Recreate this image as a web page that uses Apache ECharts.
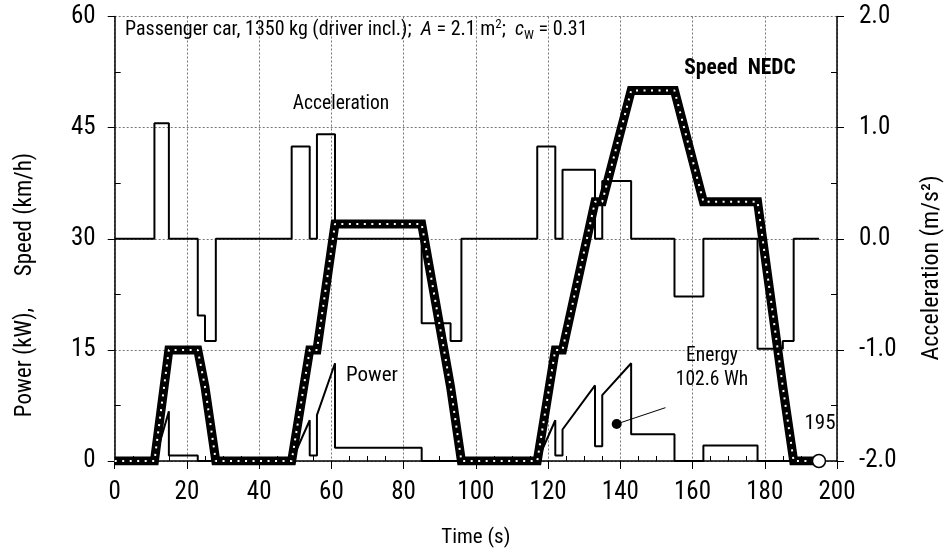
<!DOCTYPE html>
<html><head><meta charset="utf-8">
<script src="https://cdn.jsdelivr.net/npm/echarts@6/dist/echarts.min.js"></script>
<style>html,body{margin:0;padding:0;background:#fff}#c{width:949px;height:553px}</style>
</head><body><div id="c"></div>
<script>
// ---- data ----
const speedTime = [0,11,15,23,25,28,49,54,56,61,85,93,96,117,122,124,133,135,143,155,163,178,185,188,195];
const speedKmh  = [0,0,15,15,10,0,0,15,15,32,32,10,0,0,15,15,35,35,50,50,35,35,10,0,0];
const accTime = [0,11,15,23,25,28,49,54,56,61,85,93,96,117,122,124,133,135,143,155,163,178,185,188,195];
const accVal  = [0,1.04,0,-0.69,-0.92,0,0.83,0,0.94,0,-0.76,-0.92,0,0.83,0,0.62,0,0.52,0,-0.52,0,-0.99,-0.92,0,0];
const powerTime = [0,11,15,15,23,23,49,54,54,56,56,61,61,85,85,117,122,122,124,124,133,133,135,135,143,143,155,155,163,163,178,178,195];
const powerKw   = [0,0,6.7,0.75,0.75,0,0,5.5,0.75,0.75,6.2,13.2,1.8,1.8,0,0,5.5,0.75,0.75,4.25,10.2,2.0,2.0,8.9,13.2,3.6,3.6,0,0,2.1,2.1,0,0];
const energyDot = [139, 5.0];
const energyLeaderEnd = [152.5, 7.2];
const endPoint = [195, 0];
const energyText = ['Energy', '102.6 Wh'];
const endLabel = '195';

const zip = (a, b) => a.map((v, i) => [v, b[i]]);
const FONT = '"Roboto Condensed", "Liberation Sans", Arial, sans-serif';

const chart = echarts.init(document.getElementById('c'), null, {renderer: 'canvas'});
const grid = {left: 114.7, right: 112, top: 16.5, bottom: 89.7};
const gridLine = {show: true, lineStyle: {color: '#777', type: [2, 2], width: 1}};

chart.setOption({
  animation: false,
  backgroundColor: '#fff',
  grid: grid,
  xAxis: {
    type: 'value', min: 0, max: 200, interval: 20,
    name: 'Time (s)', nameLocation: 'middle', nameGap: 66,
    nameTextStyle: {fontFamily: FONT, fontSize: 21, color: '#000'},
    axisLine: {show: true, onZero: false, lineStyle: {color: '#000', width: 1.5}},
    axisTick: {show: true, inside: false, length: 8, lineStyle: {color: '#000', width: 1}},
    minorTick: {show: true, splitNumber: 4, length: -5, lineStyle: {color: '#000', width: 1}},
    axisLabel: {fontFamily: FONT, fontSize: 25, color: '#000', margin: 19},
    splitLine: gridLine
  },
  yAxis: [{
    type: 'value', min: 0, max: 60, interval: 15, position: 'left',
    axisLine: {show: true, lineStyle: {color: '#000', width: 1.5}},
    axisTick: {show: true, length: 7, lineStyle: {color: '#000', width: 1}},
    minorTick: {show: true, splitNumber: 2, length: -6, lineStyle: {color: '#000', width: 1}},
    axisLabel: {fontFamily: FONT, fontSize: 25, color: '#000', margin: 19},
    splitLine: gridLine
  }, {
    type: 'value', min: -2, max: 2, interval: 1, position: 'right',
    axisLine: {show: true, lineStyle: {color: '#000', width: 1.5}},
    axisTick: {show: true, length: 7, lineStyle: {color: '#000', width: 1}},
    minorTick: {show: true, splitNumber: 2, length: -6, lineStyle: {color: '#000', width: 1}},
    axisLabel: {fontFamily: FONT, fontSize: 25, color: '#000', margin: 22,
      formatter: v => v.toFixed(1)},
    splitLine: {show: false}
  }],
  series: [
    {
      name: 'Acceleration', type: 'line', yAxisIndex: 1, step: 'end',
      data: zip(accTime, accVal), symbol: 'none', z: 3,
      lineStyle: {color: '#000', width: 2}
    },
    {
      name: 'Power', type: 'line', yAxisIndex: 0,
      data: zip(powerTime, powerKw), symbol: 'none', z: 3,
      lineStyle: {color: '#000', width: 2}
    },
    {
      name: 'EnergyLeader', type: 'line', yAxisIndex: 0,
      data: [energyDot, energyLeaderEnd], symbol: 'none', z: 4,
      lineStyle: {color: '#000', width: 1}
    },
    {
      name: 'EnergyDot', type: 'scatter', yAxisIndex: 0,
      data: [energyDot], symbol: 'circle', symbolSize: 10, z: 5,
      itemStyle: {color: '#000', opacity: 1}
    },
    {
      name: 'Speed', type: 'line', yAxisIndex: 0,
      data: zip(speedTime, speedKmh), symbol: 'none', z: 6,
      lineStyle: {color: '#000', width: 9, join: 'miter'}
    },
    {
      name: 'SpeedDots', type: 'line', yAxisIndex: 0,
      data: zip(speedTime, speedKmh), symbol: 'none', z: 7,
      lineStyle: {color: '#fff', width: 2, type: [2, 5.5]}
    },
    {
      name: 'End', type: 'scatter', yAxisIndex: 0,
      data: [endPoint], symbol: 'circle', symbolSize: 13, z: 8,
      itemStyle: {color: '#fff', borderColor: '#000', borderWidth: 1.5, opacity: 1}
    }
  ],
  graphic: [
    {type: 'text', left: 125, top: 18, z: 20, style: {
      text: '{n|Passenger car, 1350 kg (driver incl.);  }{i|A}{n| = 2.1 m}{sup|2}{n|;  }{i|c}{sub|W}{n| = 0.31}',
      rich: {
        n: {fontFamily: FONT, fontSize: 20, fill: '#000', lineHeight: 24, verticalAlign: 'middle'},
        i: {fontFamily: FONT, fontSize: 20, fontStyle: 'italic', fill: '#000', lineHeight: 24, verticalAlign: 'middle'},
        sup: {fontFamily: FONT, fontSize: 13, fill: '#000', lineHeight: 24, verticalAlign: 'top'},
        sub: {fontFamily: FONT, fontSize: 13, fill: '#000', lineHeight: 24, verticalAlign: 'bottom'}
      }
    }},
    {type: 'text', x: 25, y: 285, rotation: Math.PI / 2, z: 20, style: {text: 'Power (kW),      Speed (km/h)', fontFamily: FONT, fontSize: 23, fill: '#000', align: 'center', verticalAlign: 'middle'}},
    {type: 'text', x: 932, y: 268, rotation: Math.PI / 2, z: 20, style: {text: 'Acceleration (m/s²)', fontFamily: FONT, fontSize: 24, fill: '#000', align: 'center', verticalAlign: 'middle'}},
    {type: 'text', x: 341, y: 104, z: 20, style: {text: 'Acceleration', fontFamily: FONT, fontSize: 19.5, fill: '#000', align: 'center', verticalAlign: 'middle'}},
    {type: 'text', x: 740, y: 69, z: 20, style: {text: 'Speed  NEDC', fontFamily: FONT, fontSize: 21.5, fontWeight: 'bold', fill: '#000', align: 'center', verticalAlign: 'middle'}},
    {type: 'text', x: 372, y: 376, z: 20, style: {text: 'Power', fontFamily: FONT, fontSize: 21, fill: '#000', align: 'center', verticalAlign: 'middle'}},
    {type: 'text', x: 712, y: 356, z: 20, style: {text: energyText[0], fontFamily: FONT, fontSize: 19.5, fill: '#000', align: 'center', verticalAlign: 'middle'}},
    {type: 'text', x: 712, y: 380, z: 20, style: {text: energyText[1], fontFamily: FONT, fontSize: 19.5, fill: '#000', align: 'center', verticalAlign: 'middle'}},
    {type: 'text', x: 820, y: 424, z: 20, style: {text: endLabel, fontFamily: FONT, fontSize: 21, fill: '#000', align: 'center', verticalAlign: 'middle'}}
  ]
});
</script></body></html>
